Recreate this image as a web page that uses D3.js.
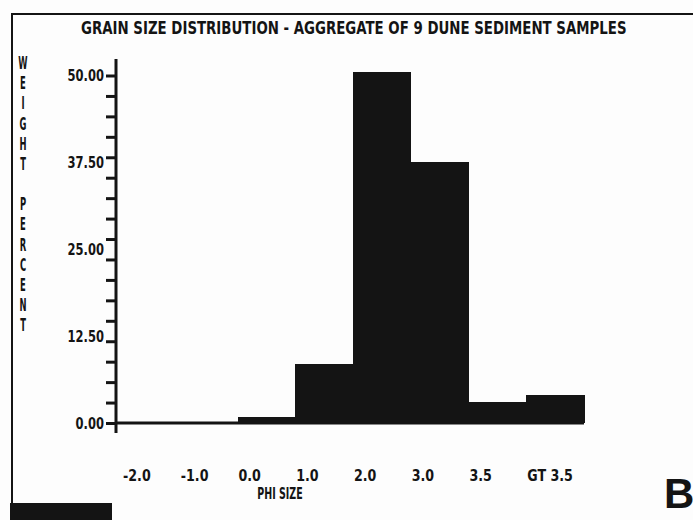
<!DOCTYPE html>
<html>
<head>
<meta charset="utf-8">
<script src="https://cdn.jsdelivr.net/npm/d3@7"></script>
<style>
  html, body { margin: 0; padding: 0; background: #fdfdfd; }
  svg { display: block; }
  .pr { font-family: "Liberation Sans Narrow", "DejaVu Sans Condensed", "Arial Narrow", sans-serif; font-weight: bold; fill: #141414; }
</style>
</head>
<body>
<svg id="chart" width="693" height="520"></svg>
<script>
// ---- data ----
const categories = ["-2.0", "-1.0", "0.0", "1.0", "2.0", "3.0", "3.5", "GT 3.5"];
const weightPercent = [0, 0, 0.9, 8.5, 50.5, 37.6, 3.0, 4.0];
const yTickValues = [0, 12.5, 25, 37.5, 50];
const yTickLabels = ["0.00", "12.50", "25.00", "37.50", "50.00"];
const titleText = "GRAIN SIZE DISTRIBUTION  - AGGREGATE OF 9 DUNE SEDIMENT SAMPLES";
const xTitle = "PHI SIZE";
const yTitleLetters = ["W","E","I","G","H","T"," ","P","E","R","C","E","N","T"];
const panelLetter = "B";

// ---- layout ----
const ink = "#141414";
const svg = d3.select("#chart");

const x = d3.scaleBand().domain(categories).range([122, 584]).paddingInner(0).paddingOuter(0);
const y = d3.scaleLinear().domain([0, 50]).range([423, 75.5]);

// frame
svg.append("path")
  .attr("d", "M12,505 L12,14 L693,14")
  .attr("fill", "none").attr("stroke", ink).attr("stroke-width", 2);

// bottom-left dark strip (scan artifact)
svg.append("rect").attr("x", 10).attr("y", 503).attr("width", 102).attr("height", 17).attr("fill", ink);

// title, condensed to the printout width
const title = svg.append("text").attr("class", "pr")
  .attr("font-size", 18)
  .text(titleText);
const tw = title.node().getComputedTextLength();
title.attr("transform", `translate(81,34) scale(${546 / tw},1)`);

// bars
svg.append("g").attr("shape-rendering", "crispEdges")
  .selectAll("rect").data(categories.map((c, i) => ({c, v: weightPercent[i]})))
  .join("rect")
  .attr("x", d => x(d.c))
  .attr("width", x.bandwidth() + 0.5)
  .attr("y", d => y(d.v))
  .attr("height", d => y(0) - y(d.v))
  .attr("fill", ink);

// baseline
svg.append("line")
  .attr("x1", 116).attr("x2", x.range()[1])
  .attr("y1", y(0)).attr("y2", y(0))
  .attr("stroke", ink).attr("stroke-width", 3);

// y axis with minor ticks
const minorTicks = d3.range(0, 18).map(i => i * 50 / 17);
const yAxis = d3.axisLeft(y).tickValues(minorTicks).tickSize(10).tickFormat("");
const gy = svg.append("g").attr("transform", "translate(116,0)").call(yAxis);
gy.select(".domain").remove();
gy.selectAll(".tick line").attr("stroke", ink).attr("stroke-width", 3);
gy.append("line").attr("x1", 0).attr("x2", 0).attr("y1", 59).attr("y2", 433)
  .attr("stroke", ink).attr("stroke-width", 3);

// helper: condensed printer-style text
function cond(sel, sx) {
  return sel.attr("transform", function () {
    const tx = +this.getAttribute("data-x"), ty = +this.getAttribute("data-y");
    return `translate(${tx},${ty}) scale(${sx},1)`;
  });
}

// y tick labels
svg.append("g").selectAll("text").data(yTickValues)
  .join("text").attr("class", "pr")
  .attr("data-x", 104)
  .attr("data-y", d => y(d))
  .attr("dy", "0.36em")
  .attr("text-anchor", "end")
  .attr("font-size", 16)
  .text((d, i) => yTickLabels[i])
  .call(cond, 0.8);

// x labels
svg.append("g").selectAll("text").data(categories)
  .join("text").attr("class", "pr")
  .attr("data-x", d => x(d) + 1)
  .attr("data-y", 481)
  .attr("font-size", 16)
  .text(d => d)
  .call(cond, 0.88);

// x title
svg.append("text").attr("class", "pr")
  .attr("data-x", 280).attr("data-y", 499)
  .attr("text-anchor", "middle")
  .attr("font-size", 16)
  .text(xTitle)
  .call(cond, 0.66);

// y title (stacked letters)
const yl = d3.scalePoint().domain(d3.range(yTitleLetters.length)).range([63, 325]);
svg.append("g").selectAll("text").data(yTitleLetters)
  .join("text").attr("class", "pr")
  .attr("data-x", 23)
  .attr("data-y", (d, i) => yl(i))
  .attr("dy", "0.36em")
  .attr("text-anchor", "middle")
  .attr("font-size", 17)
  .text(d => d)
  .call(cond, 0.55);

// panel letter
svg.append("text")
  .attr("x", 664).attr("y", 508)
  .attr("font-family", "Liberation Sans, Arial, sans-serif")
  .attr("font-weight", "bold")
  .attr("font-size", 42)
  .attr("fill", ink)
  .text(panelLetter);
</script>
</body>
</html>
